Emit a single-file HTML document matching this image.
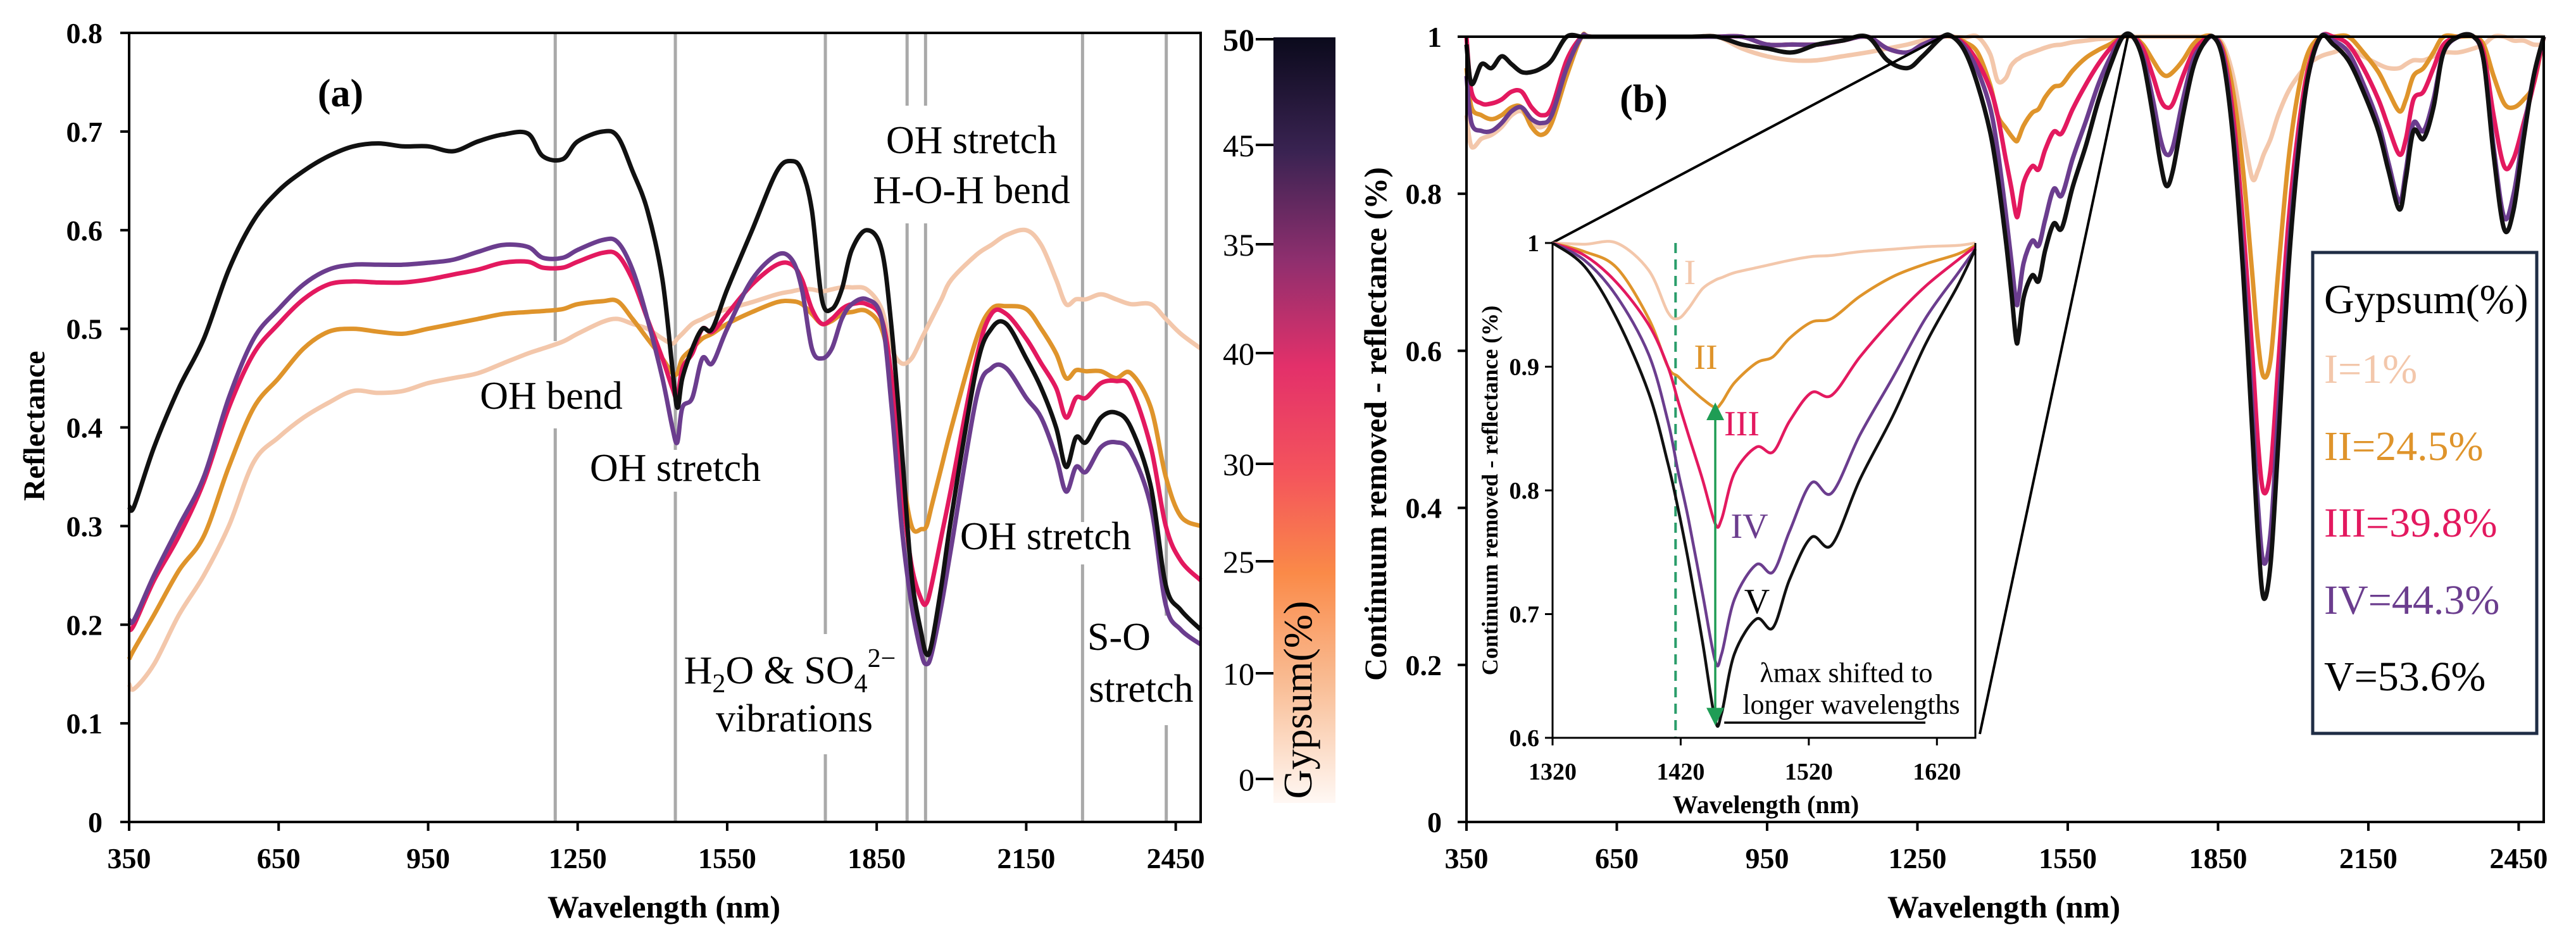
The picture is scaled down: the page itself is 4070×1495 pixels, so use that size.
<!DOCTYPE html>
<html><head><meta charset="utf-8"><style>
html,body{margin:0;padding:0;background:#fff}
svg{display:block}
svg text{font-family:"Liberation Serif","DejaVu Serif",serif !important;fill:#000}
.b{font-weight:bold}
</style></head><body>
<svg id="fig" xmlns="http://www.w3.org/2000/svg" width="4070" height="1495" viewBox="0 0 4070 1495" font-family="Liberation Serif, serif">
<defs>
<linearGradient id="cbar" x1="0" y1="0" x2="0" y2="1">
<stop offset="0" stop-color="#0b0a1c"/><stop offset="0.15" stop-color="#3a2352"/>
<stop offset="0.29" stop-color="#8e2f6e"/><stop offset="0.43" stop-color="#e3306a"/>
<stop offset="0.57" stop-color="#f4545c"/><stop offset="0.7" stop-color="#fa8a48"/>
<stop offset="0.85" stop-color="#f9bf98"/><stop offset="1" stop-color="#fff8f4"/>
</linearGradient>
<marker id="ah" markerWidth="8" markerHeight="8" refX="4" refY="4" orient="auto-start-reverse" markerUnits="strokeWidth"><path d="M0,0 L8,4 L0,8 z" fill="#1f9d55"/></marker>
</defs>
<g id="panelA"></g>
<g id="panelB"></g>
</svg>
<script>
// ---------- Panel (a) data ----------
const nmA=[350,360,400,450,500,550,600,650,700,750,800,850,900,950,1000,1050,1100,1150,1180,1220,1250,1300,1330,1360,1390,1420,1440,1450,1460,1480,1500,1520,1550,1600,1650,1680,1700,1720,1740,1760,1780,1800,1830,1860,1880,1900,1920,1940,1950,1960,1980,2000,2050,2080,2110,2150,2180,2210,2230,2250,2270,2300,2330,2360,2400,2430,2460,2500];
const reflV=[0.32,0.32,0.38,0.44,0.49,0.56,0.61,0.64,0.66,0.675,0.685,0.688,0.685,0.685,0.68,0.69,0.697,0.698,0.675,0.672,0.69,0.70,0.695,0.66,0.62,0.55,0.46,0.42,0.45,0.48,0.50,0.50,0.54,0.60,0.66,0.67,0.66,0.62,0.53,0.52,0.54,0.58,0.60,0.58,0.50,0.38,0.25,0.19,0.17,0.18,0.24,0.31,0.46,0.50,0.505,0.47,0.44,0.40,0.36,0.39,0.385,0.41,0.415,0.40,0.34,0.24,0.215,0.195];
const reflIV=[0.205,0.205,0.25,0.30,0.35,0.43,0.49,0.52,0.545,0.56,0.565,0.565,0.565,0.567,0.57,0.578,0.585,0.583,0.572,0.572,0.58,0.59,0.588,0.56,0.51,0.45,0.40,0.385,0.42,0.43,0.47,0.465,0.50,0.55,0.575,0.57,0.54,0.48,0.47,0.48,0.51,0.525,0.53,0.51,0.42,0.30,0.22,0.17,0.16,0.17,0.22,0.28,0.43,0.46,0.46,0.43,0.41,0.37,0.335,0.36,0.355,0.38,0.385,0.375,0.32,0.22,0.195,0.18];
const reflIII=[0.195,0.2,0.245,0.29,0.345,0.42,0.475,0.505,0.53,0.545,0.548,0.547,0.547,0.55,0.555,0.56,0.567,0.568,0.562,0.562,0.568,0.577,0.575,0.55,0.51,0.47,0.44,0.43,0.46,0.475,0.50,0.497,0.515,0.545,0.565,0.565,0.55,0.52,0.505,0.51,0.52,0.525,0.525,0.51,0.45,0.34,0.26,0.225,0.222,0.24,0.29,0.34,0.47,0.515,0.515,0.49,0.465,0.44,0.41,0.43,0.43,0.445,0.447,0.44,0.38,0.30,0.265,0.245];
const reflII=[0.165,0.175,0.21,0.255,0.29,0.36,0.42,0.45,0.48,0.497,0.5,0.497,0.495,0.5,0.505,0.51,0.515,0.517,0.518,0.52,0.525,0.528,0.528,0.51,0.49,0.47,0.455,0.455,0.47,0.48,0.49,0.495,0.505,0.517,0.527,0.528,0.525,0.515,0.505,0.508,0.515,0.517,0.518,0.50,0.45,0.36,0.30,0.297,0.30,0.32,0.36,0.40,0.49,0.52,0.523,0.52,0.50,0.475,0.45,0.458,0.457,0.457,0.45,0.455,0.42,0.35,0.31,0.30];
const reflI=[0.14,0.135,0.16,0.21,0.25,0.30,0.365,0.39,0.41,0.425,0.437,0.435,0.437,0.445,0.45,0.455,0.465,0.475,0.48,0.487,0.495,0.507,0.51,0.505,0.50,0.49,0.485,0.49,0.495,0.505,0.51,0.515,0.52,0.527,0.535,0.538,0.54,0.54,0.538,0.54,0.542,0.542,0.54,0.52,0.48,0.465,0.47,0.49,0.50,0.51,0.53,0.55,0.575,0.585,0.595,0.60,0.585,0.55,0.525,0.53,0.53,0.535,0.53,0.525,0.525,0.51,0.495,0.48];
const xTicksA=[350,650,950,1250,1550,1850,2150,2450];
const yTicksA=[0,0.1,0.2,0.3,0.4,0.5,0.6,0.7,0.8];
const bandNm=[1205,1446,1747,1911,1948,2263,2431];
const cbarTickLabels=["50","45","35","40","30","25","10","0"];

// ---------- Panel (b) data ----------
const nmB=[350,360,380,400,420,440,460,480,500,520,550,580,600,700,800,850,900,950,1000,1050,1100,1150,1190,1230,1260,1300,1320,1345,1370,1395,1410,1426,1437,1447,1452,1462,1479,1492,1505,1522,1538,1560,1586,1611,1636,1660,1680,1700,1720,1735,1747,1760,1780,1800,1820,1840,1860,1880,1900,1918,1930,1941,1955,1970,1990,2010,2030,2055,2080,2110,2140,2170,2190,2212,2225,2240,2260,2280,2300,2330,2360,2380,2400,2421,2440,2460,2480,2500];
const crV=[0.99,0.94,0.965,0.96,0.975,0.965,0.955,0.955,0.96,0.97,1,1,1,1,1,1,0.99,0.985,0.98,0.99,0.995,1,0.97,0.96,0.975,1,1,0.981,0.939,0.879,0.822,0.743,0.678,0.614,0.62,0.668,0.696,0.689,0.728,0.762,0.756,0.809,0.861,0.918,0.965,1,1,0.97,0.9,0.84,0.81,0.83,0.9,0.96,0.99,1,0.97,0.87,0.7,0.5,0.36,0.285,0.33,0.48,0.7,0.85,0.95,1,0.99,0.97,0.93,0.88,0.83,0.78,0.82,0.88,0.87,0.91,0.98,1,1,0.97,0.85,0.755,0.78,0.87,0.95,1];
const crIV=[0.95,0.89,0.88,0.88,0.89,0.905,0.91,0.895,0.89,0.9,0.96,1,1,1,1,1,1,0.99,0.99,0.99,0.995,1,0.985,0.98,0.99,1,1,0.986,0.957,0.91,0.856,0.777,0.717,0.662,0.668,0.712,0.74,0.734,0.767,0.806,0.798,0.845,0.892,0.939,0.975,1,1,0.975,0.92,0.87,0.85,0.86,0.92,0.97,0.99,1,0.975,0.88,0.72,0.53,0.4,0.33,0.37,0.52,0.72,0.86,0.95,1,0.995,0.98,0.94,0.89,0.84,0.79,0.83,0.89,0.88,0.92,0.98,1,1,0.97,0.86,0.77,0.8,0.88,0.95,1];
const crIII=[1,0.93,0.915,0.915,0.92,0.93,0.93,0.91,0.9,0.91,0.97,1,1,1,1,1,1,0.99,0.99,0.99,0.995,1,0.985,0.98,0.99,1,1,0.99,0.968,0.934,0.9,0.845,0.809,0.773,0.777,0.814,0.835,0.831,0.856,0.879,0.877,0.908,0.939,0.965,0.986,1,1,0.985,0.95,0.92,0.91,0.915,0.95,0.98,0.995,1,0.98,0.9,0.76,0.6,0.48,0.42,0.45,0.58,0.76,0.88,0.96,1,1,0.99,0.96,0.92,0.885,0.85,0.87,0.92,0.93,0.96,0.99,1,1,0.98,0.9,0.835,0.845,0.89,0.94,1];
const crII=[0.96,0.91,0.9,0.895,0.9,0.91,0.91,0.885,0.875,0.89,0.95,1,1,1,1,1,1,0.99,0.99,0.99,0.995,1,0.985,0.98,0.99,1,1,0.993,0.98,0.939,0.9,0.884,0.874,0.867,0.871,0.887,0.903,0.908,0.923,0.936,0.939,0.957,0.973,0.983,0.991,1,1,0.99,0.97,0.955,0.95,0.955,0.97,0.99,1,1,0.985,0.93,0.83,0.7,0.61,0.567,0.59,0.7,0.84,0.93,0.98,1,1,1,0.98,0.955,0.93,0.905,0.92,0.95,0.96,0.98,1,1,1,0.99,0.95,0.915,0.91,0.92,0.94,1];
const crI=[0.9,0.86,0.87,0.875,0.885,0.9,0.905,0.89,0.885,0.9,0.96,1,1,1,1,1,0.985,0.975,0.97,0.97,0.975,0.98,0.985,0.99,0.995,1,1,0.999,1,0.978,0.944,0.947,0.963,0.97,0.972,0.976,0.98,0.983,0.986,0.989,0.99,0.993,0.995,0.997,0.998,1,1,1,1,1,1,1,1,1,1,1,0.99,0.95,0.88,0.82,0.83,0.85,0.87,0.9,0.93,0.95,0.965,0.975,0.98,0.985,0.975,0.965,0.96,0.96,0.965,0.97,0.97,0.975,0.98,0.98,0.985,0.99,1,1,0.995,0.995,0.99,0.99];
const xTicksB=[350,650,950,1250,1550,1850,2150,2450];
const yTicksB=[0,0.2,0.4,0.6,0.8,1];

// ---------- Inset data ----------
const nmIn=[1320,1345,1370,1395,1410,1418,1426,1437,1447,1452,1462,1479,1492,1505,1522,1538,1560,1586,1611,1636,1650];
const inV=[1,0.981,0.939,0.879,0.822,0.785,0.743,0.678,0.614,0.62,0.668,0.696,0.689,0.728,0.762,0.756,0.809,0.861,0.918,0.965,0.995];
const inIV=[1,0.986,0.957,0.91,0.856,0.815,0.777,0.717,0.662,0.668,0.712,0.74,0.734,0.767,0.806,0.798,0.845,0.892,0.939,0.975,0.995];
const inIII=[1,0.99,0.968,0.934,0.9,0.872,0.845,0.809,0.773,0.777,0.814,0.835,0.831,0.856,0.879,0.877,0.908,0.939,0.965,0.986,0.997];
const inII=[1,0.993,0.98,0.939,0.9,0.892,0.884,0.874,0.867,0.871,0.887,0.903,0.908,0.923,0.936,0.939,0.957,0.973,0.983,0.991,0.998];
const inI=[1,0.999,1,0.978,0.944,0.939,0.947,0.963,0.97,0.972,0.976,0.98,0.983,0.986,0.989,0.99,0.993,0.995,0.997,0.998,1];
const xTicksIn=[1320,1420,1520,1620];
const yTicksIn=[0.6,0.7,0.8,0.9,1];
const lambdaRef=1416, lambdaMax=1447;

const legendLabels=["I=1%","II=24.5%","III=39.8%","IV=44.3%","V=53.6%"];
const COL={I:"#f3c7ab",II:"#df942b",III:"#e3195f",IV:"#6b3d8e",V:"#111111"};
const SERIF="Liberation Serif, DejaVu Serif, serif";

const NS="http://www.w3.org/2000/svg";
function el(tag,attrs,parent,txt){const e=document.createElementNS(NS,tag);for(const k in attrs)e.setAttribute(k,attrs[k]);if(tag==='text'){e.setAttribute('font-family',SERIF);if(attrs.class==='b')e.setAttribute('font-weight','bold');}if(txt!==undefined)e.textContent=txt;parent.appendChild(e);return e;}
function lin(d0,d1,r0,r1){return v=>r0+(v-d0)/(d1-d0)*(r1-r0);}
function smoothPath(xs,ys,sx,sy){
  const p=xs.map((x,i)=>[sx(x),sy(ys[i])]);let d="M"+p[0][0].toFixed(1)+","+p[0][1].toFixed(1);
  for(let i=0;i<p.length-1;i++){const p0=p[i-1]||p[i],p1=p[i],p2=p[i+1],p3=p[i+2]||p2;
    const c1=[p1[0]+(p2[0]-p0[0])/6,p1[1]+(p2[1]-p0[1])/6],c2=[p2[0]-(p3[0]-p1[0])/6,p2[1]-(p3[1]-p1[1])/6];
    d+=" C"+c1[0].toFixed(1)+","+c1[1].toFixed(1)+" "+c2[0].toFixed(1)+","+c2[1].toFixed(1)+" "+p2[0].toFixed(1)+","+p2[1].toFixed(1);}
  return d;}

// ===== Panel A =====
const A=document.getElementById('panelA');
const xA=lin(350,2500,204,1897), yA=lin(0,0.8,1299,52);
const bandSegs=[[[52,539],[677,1299]],[[52,711],[777,1299]],[[52,1002],[1192,1299]],[[52,167],[353,1299]],[[52,167],[353,1299]],[[52,825],[892,1299]],[[52,973],[1146,1299]]];
bandNm.forEach((nm,i)=>{bandSegs[i].forEach(s=>{
  const l=el('line',{x1:xA(nm),x2:xA(nm),y1:s[0],y2:s[1],stroke:"#a9a9a9","stroke-width":5},A);
  
  });});
[[reflI,"I"],[reflII,"II"],[reflIII,"III"],[reflIV,"IV"],[reflV,"V"]].forEach(([vals,k])=>{
  const p=el('path',{d:smoothPath(nmA,vals,xA,yA),fill:"none",stroke:COL[k],"stroke-width":7,"stroke-linejoin":"round"},A);
  
  });
const fa=el('rect',{x:204,y:52,width:1693,height:1247,fill:"none",stroke:"#000","stroke-width":4},A);


xTicksA.forEach(t=>{el('line',{x1:xA(t),x2:xA(t),y1:1299,y2:1313,stroke:"#000","stroke-width":4},A);
  const tx=el('text',{x:xA(t),y:1372,"text-anchor":"middle","font-size":46,class:"b"},A,String(t));
  
  });
yTicksA.forEach(t=>{el('line',{x1:190,x2:204,y1:yA(t),y2:yA(t),stroke:"#000","stroke-width":4},A);
  const tx=el('text',{x:162,y:yA(t)+16,"text-anchor":"end","font-size":46,class:"b"},A,t===0?"0":t.toFixed(1));
  
  });
const cb=el('rect',{x:2012,y:59,width:98,height:1210,fill:"url(#cbar)"},A);


const cbY=[62,229,386,558,733,887,1064,1231];
cbarTickLabels.forEach((lab,i)=>{el('line',{x1:1984,x2:2012,y1:cbY[i],y2:cbY[i],stroke:"#000","stroke-width":4},A);
  const tx=el('text',{x:1982,y:cbY[i]+18,"text-anchor":"end","font-size":50,class:i===0?"b":""},A,lab);
  
  });
</script>
<script>
(function(){const A=document.getElementById('panelA');
A.insertAdjacentHTML('beforeend',`
<text x="538" y="168" text-anchor="middle" font-size="62" font-weight="bold" font-family="Liberation Serif, serif">(a)</text>
<text transform="translate(70,673) rotate(-90)" text-anchor="middle" font-size="48" font-weight="bold" font-family="Liberation Serif, serif">Reflectance</text>
<text x="1049" y="1450" text-anchor="middle" font-size="50" font-weight="bold" font-family="Liberation Serif, serif">Wavelength (nm)</text>
<text transform="translate(2072,1106) rotate(-90)" text-anchor="middle" font-size="64" font-family="Liberation Serif, serif">Gypsum(%)</text>
<text x="871" y="646" text-anchor="middle" font-size="62" font-family="Liberation Serif, serif">OH bend</text>
<text x="1067" y="760" text-anchor="middle" font-size="62" font-family="Liberation Serif, serif">OH stretch</text>
<text x="1248" y="1080" text-anchor="middle" font-size="62" font-family="Liberation Serif, serif">H<tspan font-size="42" dy="14">2</tspan><tspan dy="-14">O &amp; SO</tspan><tspan font-size="42" dy="14">4</tspan><tspan font-size="42" dy="-40">2−</tspan></text>
<text x="1255" y="1156" text-anchor="middle" font-size="62" font-family="Liberation Serif, serif">vibrations</text>
<text x="1535" y="242" text-anchor="middle" font-size="62" font-family="Liberation Serif, serif">OH stretch</text>
<text x="1535" y="321" text-anchor="middle" font-size="62" font-family="Liberation Serif, serif">H-O-H bend</text>
<text x="1652" y="868" text-anchor="middle" font-size="62" font-family="Liberation Serif, serif">OH stretch</text>
<text x="1768" y="1027" text-anchor="middle" font-size="62" font-family="Liberation Serif, serif">S-O</text>
<text x="1803" y="1109" text-anchor="middle" font-size="62" font-family="Liberation Serif, serif">stretch</text>`);})();

// ===== Panel B =====
(function(){
const B=document.getElementById('panelB');
const xB=lin(350,2500,2317,4019), yB=lin(0,1,1299,58);
[[crI,"I"],[crII,"II"],[crIII,"III"],[crIV,"IV"],[crV,"V"]].forEach(([vals,k])=>{
  const p=el('path',{d:smoothPath(nmB,vals,xB,yB),fill:"none",stroke:COL[k],"stroke-width":7,"stroke-linejoin":"round"},B);
  
  });
const fb=el('rect',{x:2317,y:58,width:1702,height:1241,fill:"none",stroke:"#000","stroke-width":4},B);


xTicksB.forEach(t=>{el('line',{x1:xB(t),x2:xB(t),y1:1299,y2:1313,stroke:"#000","stroke-width":4},B);
  const tx=el('text',{x:xB(t),y:1372,"text-anchor":"middle","font-size":46,class:"b"},B,String(t));
  
  });
yTicksB.forEach(t=>{el('line',{x1:2303,x2:2317,y1:yB(t),y2:yB(t),stroke:"#000","stroke-width":4},B);
  const tx=el('text',{x:2278,y:yB(t)+16,"text-anchor":"end","font-size":46,class:"b"},B,(t===0||t===1)?String(t):t.toFixed(1));
  
  });
const z1=el('line',{x1:2452,y1:384,x2:xB(1299),y2:yB(1),stroke:"#000","stroke-width":4},B);


const z2=el('line',{x1:3128,y1:1160,x2:xB(1670),y2:yB(1),stroke:"#000","stroke-width":4},B);


const xI=lin(1320,1650,2453,3121), yI=lin(0.6,1,1166,384);
const ib=el('rect',{x:2453,y:384,width:668,height:782,fill:"#fff"},B);


const dl=el('line',{x1:xI(lambdaRef),x2:xI(lambdaRef),y1:384,y2:1166,stroke:"#2a9d6a","stroke-width":4,"stroke-dasharray":"16,10"},B);


[[inI,"I"],[inII,"II"],[inIII,"III"],[inIV,"IV"],[inV,"V"]].forEach(([vals,k])=>{
  const p=el('path',{d:smoothPath(nmIn,vals,xI,yI),fill:"none",stroke:COL[k],"stroke-width":4.5,"stroke-linejoin":"round"},B);
  
  });
const ar=el('line',{x1:xI(lambdaMax),x2:xI(lambdaMax),y1:yI(inV[8])-6,y2:yI(inII[8])+6,stroke:"#1f9d55","stroke-width":3.5,"marker-start":"url(#ah)","marker-end":"url(#ah)"},B);


const ul=el('line',{x1:xI(1454),x2:xI(1611),y1:1142,y2:1142,stroke:"#000","stroke-width":3.5},B);


const ifr=el('path',{d:"M2453,384 V1166 H3121 V384",fill:"none",stroke:"#000","stroke-width":3},B);


xTicksIn.forEach(t=>{el('line',{x1:xI(t),x2:xI(t),y1:1166,y2:1178,stroke:"#000","stroke-width":3},B);
  const tx=el('text',{x:xI(t),y:1232,"text-anchor":"middle","font-size":38,class:"b"},B,String(t));
  
  });
yTicksIn.forEach(t=>{el('line',{x1:2441,x2:2453,y1:yI(t),y2:yI(t),stroke:"#000","stroke-width":3},B);
  const tx=el('text',{x:2432,y:yI(t)+13,"text-anchor":"end","font-size":38,class:"b"},B,t===1?"1":t.toFixed(1));
  
  });
})();
</script>
<script>
(function(){const B=document.getElementById('panelB');
B.insertAdjacentHTML('beforeend',`
<text x="2597" y="177" text-anchor="middle" font-size="62" font-weight="bold" font-family="Liberation Serif, serif">(b)</text>
<text transform="translate(2190,670) rotate(-90)" text-anchor="middle" font-size="50" font-weight="bold" font-family="Liberation Serif, serif">Continuum  removed  -  reflectance  (%)</text>
<text x="3166" y="1450" text-anchor="middle" font-size="50" font-weight="bold" font-family="Liberation Serif, serif">Wavelength (nm)</text>
<text transform="translate(2366,775) rotate(-90)" text-anchor="middle" font-size="36" font-weight="bold" font-family="Liberation Serif, serif">Continuum removed - reflectance (%)</text>
<text x="2790" y="1285" text-anchor="middle" font-size="40" font-weight="bold" font-family="Liberation Serif, serif">Wavelength (nm)</text>
<text x="2670" y="449" text-anchor="middle" font-size="56" font-family="Liberation Serif, serif" style="fill:#f3c7ab">I</text>
<text x="2695" y="583" text-anchor="middle" font-size="56" font-family="Liberation Serif, serif" style="fill:#df942b">II</text>
<text x="2752" y="688" text-anchor="middle" font-size="56" font-family="Liberation Serif, serif" style="fill:#e3195f">III</text>
<text x="2764" y="850" text-anchor="middle" font-size="56" font-family="Liberation Serif, serif" style="fill:#6b3d8e">IV</text>
<text x="2776" y="969" text-anchor="middle" font-size="56" font-family="Liberation Serif, serif">V</text>
<text x="2917" y="1078" text-anchor="middle" font-size="44" font-family="Liberation Serif, serif">λmax shifted to</text>
<text x="2925" y="1128" text-anchor="middle" font-size="44" font-family="Liberation Serif, serif">longer wavelengths</text>
<g>
<rect x="3654" y="399" width="354" height="760" fill="#fff" stroke="#1f2d45" stroke-width="5"/>
<text x="3672" y="495" font-size="66" font-family="Liberation Serif, serif">Gypsum(%)</text>
<text x="3672" y="605" font-size="66" font-family="Liberation Serif, serif" style="fill:#f3c7ab">I=1%</text>
<text x="3672" y="727" font-size="66" font-family="Liberation Serif, serif" style="fill:#df942b">II=24.5%</text>
<text x="3672" y="848" font-size="66" font-family="Liberation Serif, serif" style="fill:#e3195f">III=39.8%</text>
<text x="3672" y="970" font-size="66" font-family="Liberation Serif, serif" style="fill:#6b3d8e">IV=44.3%</text>
<text x="3672" y="1091" font-size="66" font-family="Liberation Serif, serif">V=53.6%</text>
</g>`);})();
</script>
</body></html>
